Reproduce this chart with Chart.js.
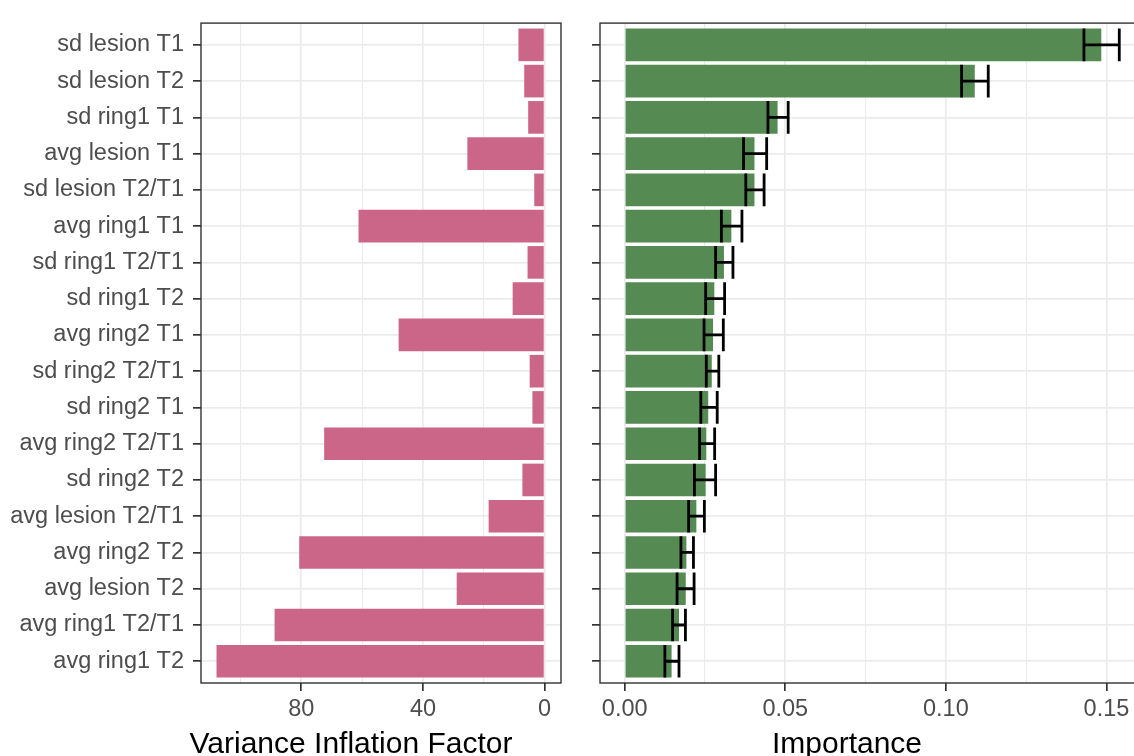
<!DOCTYPE html>
<html>
<head>
<meta charset="utf-8">
<script src="https://cdn.jsdelivr.net/npm/chart.js@4/dist/chart.umd.min.js"></script>
<style>
  html, body { margin: 0; padding: 0; background: #ffffff; width: 1134px; height: 756px; overflow: hidden; }
  #wrap { position: relative; width: 1134px; height: 756px; overflow: hidden; }
  #left { position: absolute; left: 0; top: 0; }
  #right { position: absolute; left: 570px; top: 0; }
</style>
</head>
<body>
<div id="wrap">
  <canvas id="left" width="570" height="756" style="width:570px;height:756px"></canvas>
  <canvas id="right" width="590" height="756" style="width:590px;height:756px"></canvas>
</div>
<script>
// ---- data ----
const categories = ['sd lesion T1', 'sd lesion T2', 'sd ring1 T1', 'avg lesion T1', 'sd lesion T2/T1',
  'avg ring1 T1', 'sd ring1 T2/T1', 'sd ring1 T2', 'avg ring2 T1', 'sd ring2 T2/T1', 'sd ring2 T1',
  'avg ring2 T2/T1', 'sd ring2 T2', 'avg lesion T2/T1', 'avg ring2 T2', 'avg lesion T2',
  'avg ring1 T2/T1', 'avg ring1 T2'];
const vif = [8.6, 6.7, 5.4, 25.4, 3.4, 61.2, 5.6, 10.5, 48.0, 4.9, 4.0, 72.5, 7.3, 18.4, 80.7, 28.9, 88.8, 107.9];
const importance = [0.1484, 0.1090, 0.0476, 0.0404, 0.0404, 0.0332, 0.0309, 0.0279, 0.0275, 0.0271,
  0.0260, 0.0254, 0.0252, 0.0223, 0.0192, 0.0190, 0.0169, 0.0146];
const impLow = [0.1430, 0.1049, 0.0446, 0.0370, 0.0377, 0.0301, 0.0283, 0.0252, 0.0247, 0.0254,
  0.0237, 0.0233, 0.0217, 0.0199, 0.0175, 0.0163, 0.0149, 0.0125];
const impHigh = [0.1540, 0.1132, 0.0509, 0.0442, 0.0434, 0.0365, 0.0337, 0.0311, 0.0307, 0.0293,
  0.0288, 0.0280, 0.0283, 0.0248, 0.0214, 0.0216, 0.0189, 0.0169];
const vifTicks = [0, 20, 40, 60, 80, 100];
const vifLabels = [0, 40, 80];
const impTicks = [0, 0.025, 0.05, 0.075, 0.1, 0.125, 0.15];
const impLabels = [0, 0.05, 0.1, 0.15];
const vifTitle = 'Variance Inflation Factor';
const impTitle = 'Importance';

// ---- styling ----
Chart.defaults.font.family = "'Liberation Sans', Arial, sans-serif";
const tickFont = { size: 23.5 };
const tickColor = '#4d4d4d';
const gridColor = '#ebebeb';
const darkColor = '#333333';

function isLabelled(list, v) { return list.some(l => Math.abs(l - v) < 1e-9); }

const panelBorder = {
  id: 'panelBorder',
  afterDraw(chart) {
    const { ctx, chartArea: a } = chart;
    ctx.save();
    ctx.strokeStyle = darkColor;
    ctx.lineWidth = 1.4;
    ctx.strokeRect(a.left, a.top, a.right - a.left, a.bottom - a.top);
    ctx.restore();
  }
};

function titlePlugin(text, cx) {
  return {
    id: 'axisTitle',
    afterDraw(chart) {
      const ctx = chart.ctx;
      ctx.save();
      ctx.font = "30px 'Liberation Sans', Arial, sans-serif";
      ctx.fillStyle = '#000000';
      ctx.textAlign = 'center';
      ctx.textBaseline = 'alphabetic';
      ctx.fillText(text, cx, 753);
      ctx.restore();
    }
  };
}

const errorBars = {
  id: 'errorBars',
  afterDatasetsDraw(chart) {
    const { ctx, scales: { x, y } } = chart;
    const half = Math.abs(y.getPixelForValue(0.45) - y.getPixelForValue(0));
    ctx.save();
    ctx.strokeStyle = '#000000';
    ctx.lineWidth = 2.8;
    impLow.forEach((lo, i) => {
      const yc = y.getPixelForValue(i);
      const x1 = x.getPixelForValue(lo);
      const x2 = x.getPixelForValue(impHigh[i]);
      ctx.beginPath();
      ctx.moveTo(x1, yc); ctx.lineTo(x2, yc);
      ctx.moveTo(x1, yc - half); ctx.lineTo(x1, yc + half);
      ctx.moveTo(x2, yc - half); ctx.lineTo(x2, yc + half);
      ctx.stroke();
    });
    ctx.restore();
  }
};

function yScale(showLabels, width) {
  return {
    type: 'linear',
    reverse: true,
    offset: false,
    min: -0.6,
    max: categories.length - 1 + 0.6,
    afterBuildTicks(axis) { axis.ticks = categories.map((_, i) => ({ value: i })); },
    afterFit(axis) { axis.width = width; },
    border: { display: false },
    grid: { offset: false, color: gridColor, lineWidth: 1.7, tickLength: 8, tickColor: darkColor, tickWidth: 1.7 },
    ticks: {
      autoSkip: false,
      font: tickFont,
      color: tickColor,
      padding: 9,
      callback: v => showLabels ? categories[v] : ''
    }
  };
}

function xScale(min, max, reverse, tickList, labelList, fmt) {
  return {
    type: 'linear',
    min: min, max: max, reverse: reverse,
    offset: false,
    afterBuildTicks(axis) { axis.ticks = tickList.map(v => ({ value: v })); },
    afterFit(axis) { axis.height = 73; },
    border: { display: false },
    grid: {
      offset: false,
      color: gridColor,
      lineWidth: c => isLabelled(labelList, c.tick ? c.tick.value : 0) ? 1.7 : 1.1,
      tickLength: 8,
      tickWidth: 1.7,
      tickColor: c => isLabelled(labelList, c.tick ? c.tick.value : 0) ? darkColor : 'rgba(0,0,0,0)'
    },
    ticks: {
      autoSkip: false,
      maxRotation: 0,
      font: tickFont,
      color: tickColor,
      padding: 4,
      callback: v => isLabelled(labelList, v) ? fmt(v) : ''
    }
  };
}

new Chart(document.getElementById('left'), {
  type: 'bar',
  data: {
    datasets: [{
      data: vif.map((v, i) => ({ x: v, y: i })),
      backgroundColor: '#cc6688',
      borderWidth: 0,
      barPercentage: 0.9,
      categoryPercentage: 1.0
    }]
  },
  options: {
    indexAxis: 'y',
    responsive: false,
    animation: false,
    layout: { padding: { top: 13, right: 9, left: 0, bottom: 0 } },
    plugins: { legend: { display: false }, tooltip: { enabled: false } },
    scales: {
      x: xScale(-5.4, 113.0, true, vifTicks, vifLabels, v => String(v)),
      y: yScale(true, 201)
    }
  },
  plugins: [panelBorder, titlePlugin(vifTitle, 351)]
});

new Chart(document.getElementById('right'), {
  type: 'bar',
  data: {
    datasets: [{
      data: importance.map((v, i) => ({ x: v, y: i })),
      backgroundColor: '#558a52',
      borderWidth: 0,
      barPercentage: 0.9,
      categoryPercentage: 1.0
    }]
  },
  options: {
    indexAxis: 'y',
    responsive: false,
    animation: false,
    layout: { padding: { top: 13, right: 16, left: 0, bottom: 0 } },
    plugins: { legend: { display: false }, tooltip: { enabled: false } },
    scales: {
      x: xScale(-0.0077, 0.1617, false, impTicks, impLabels, v => v.toFixed(2)),
      y: yScale(false, 30)
    }
  },
  plugins: [errorBars, panelBorder, titlePlugin(impTitle, 847 - 570)]
});
</script>
</body>
</html>
